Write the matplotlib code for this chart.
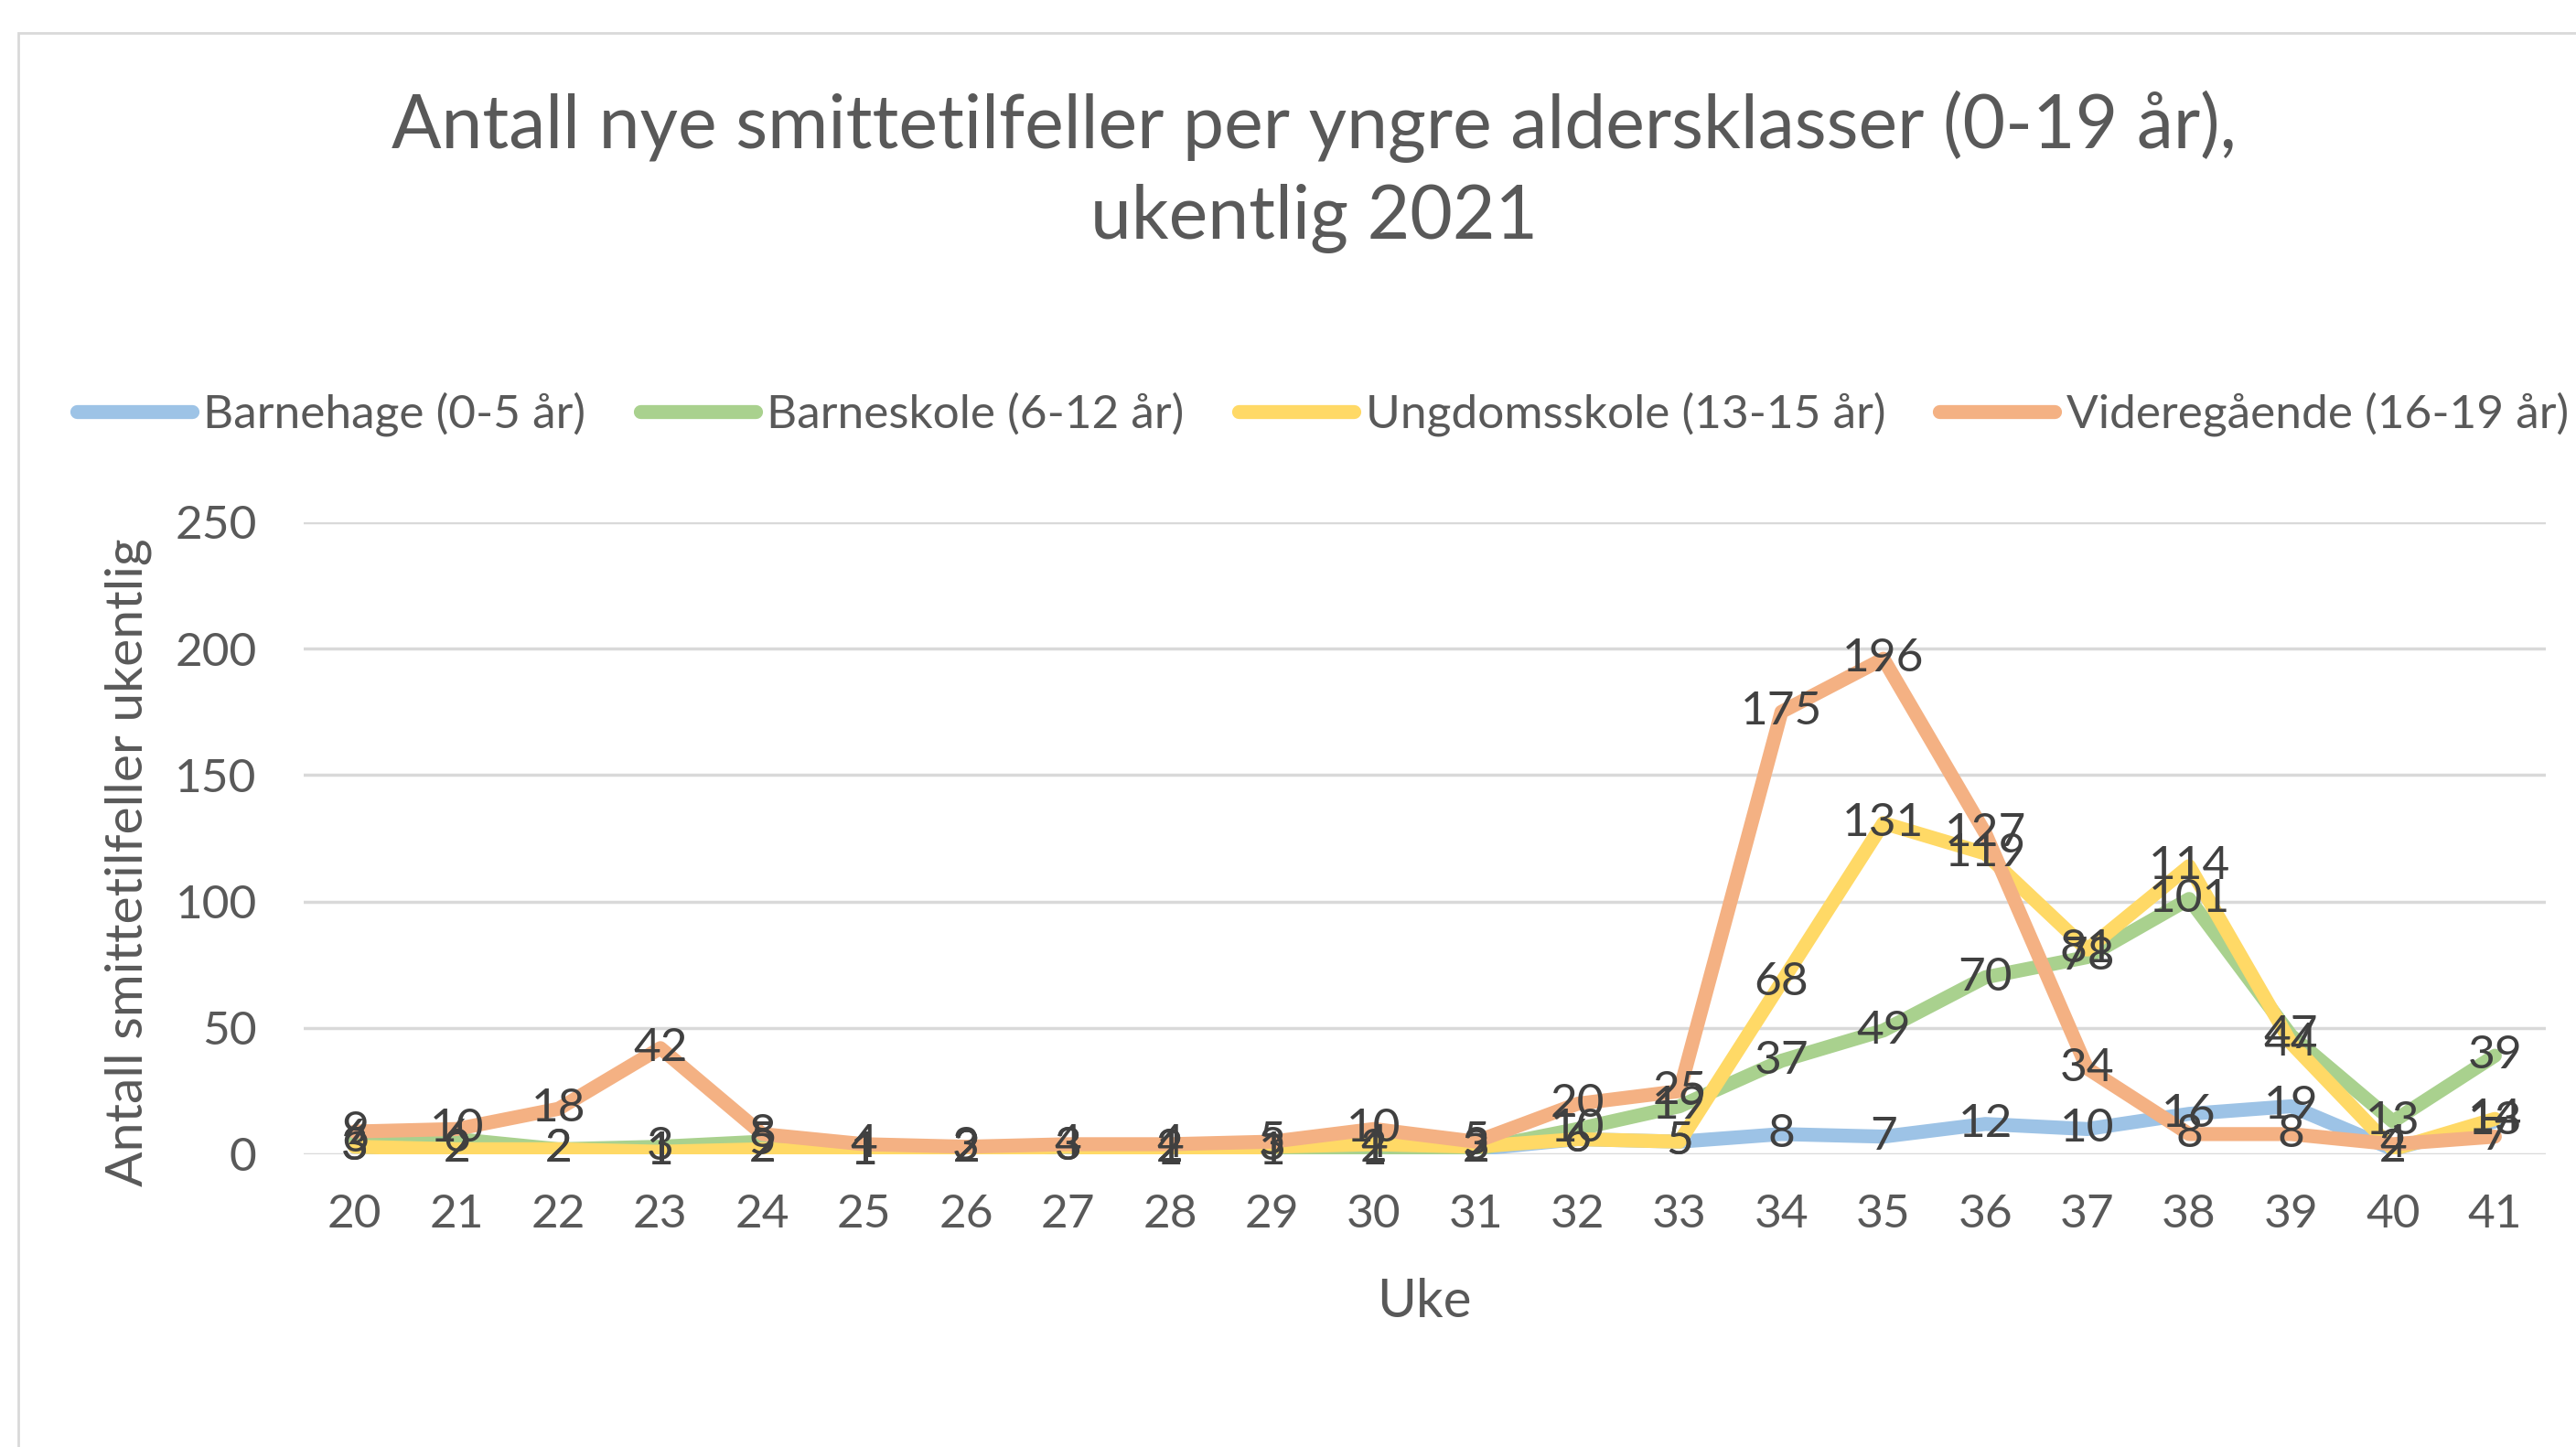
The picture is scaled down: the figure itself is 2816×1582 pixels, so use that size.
import numpy as np
import matplotlib
matplotlib.use("Agg")
import matplotlib.pyplot as plt
from matplotlib.patches import Rectangle

plt.rcParams['font.family'] = ['Lato', 'DejaVu Sans']

# data
weeks = list(range(20, 42))
barnehage = [3, 2, 0, 1, 2, 1, 2, 0, 2, 0, 2, 2, 6, 5, 8, 7, 12, 10, 16, 19, 2, 13]
barneskole = [6, 6, 2, 3, 5, 1, 2, 3, 2, 1, 1, 2, 10, 19, 37, 49, 70, 78, 101, 47, 13, 39]
ungdomsskole = [3, 2, 2, 1, 2, 1, 2, 3, 1, 3, 4, 3, 6, 5, 68, 131, 119, 81, 114, 44, 2, 14]
videregaende = [9, 10, 18, 42, 8, 4, 3, 4, 4, 5, 10, 5, 20, 25, 175, 196, 127, 34, 8, 8, 4, 7]

series_names = ['Barnehage (0-5 år)', 'Barneskole (6-12 år)',
                'Ungdomsskole (13-15 år)', 'Videregående (16-19 år)']
series_vals = [barnehage, barneskole, ungdomsskole, videregaende]
colors = ['#9DC3E6', '#A9D18E', '#FFD966', '#F4B183']

W, H = 2816, 1582
fig = plt.figure(figsize=(W / 100, H / 100), dpi=100)

# chart frame
fig.patches.append(Rectangle((20 / W, -0.01), 1.1, 1 - 36 / H + 0.01,
                             transform=fig.transFigure, fill=False,
                             edgecolor='#D9D9D9', lw=2))

ax = fig.add_axes([332 / W, (H - 1262) / H, 2451 / W, 691 / H])

for name, vals, c in zip(series_names, series_vals, colors):
    ax.plot(weeks, vals, color=c, lw=11, label=name, solid_capstyle='round',
            solid_joinstyle='round', zorder=3)

for vals in series_vals:
    for w, v in zip(weeks, vals):
        if v == 0:
            continue
        ax.text(w, v, str(v), ha='center', va='center', fontsize=37,
                color='#404040', zorder=5)

ax.set_xlim(19.5, 41.5)
ax.set_ylim(0, 250)
ax.set_xticks(weeks)
ax.set_yticks(range(0, 251, 50))
ax.grid(axis='y', color='#D9D9D9', lw=2.5)
ax.set_axisbelow(True)
for s in ax.spines.values():
    s.set_visible(False)
ax.tick_params(length=0, labelsize=37, labelcolor='#595959')
ax.tick_params(axis='x', pad=31)
ax.tick_params(axis='y', pad=37)

fig.text(1557 / W, 1 - 1424 / H, 'Uke', ha='center', va='center',
         fontsize=42, color='#595959')
fig.text(140 / W, 1 - 943 / H, 'Antall smittetilfeller ukentlig', ha='center',
         va='center', rotation=90, fontsize=41, color='#595959')

fig.text(0.510, 1 - 138 / H, 'Antall nye smittetilfeller per yngre aldersklasser (0-19 år),',
         ha='center', va='center', fontsize=58, color='#595959')
fig.text(0.510, 1 - 239 / H, 'ukentlig 2021',
         ha='center', va='center', fontsize=58, color='#595959')

fig.legend(loc='center', bbox_to_anchor=(0.5135, 1 - 453 / H), ncol=4,
           frameon=False, fontsize=37, handlelength=2.45, handletextpad=0.25,
           columnspacing=1.15, labelcolor='#595959')

fig.savefig('out.png', dpi=100)
